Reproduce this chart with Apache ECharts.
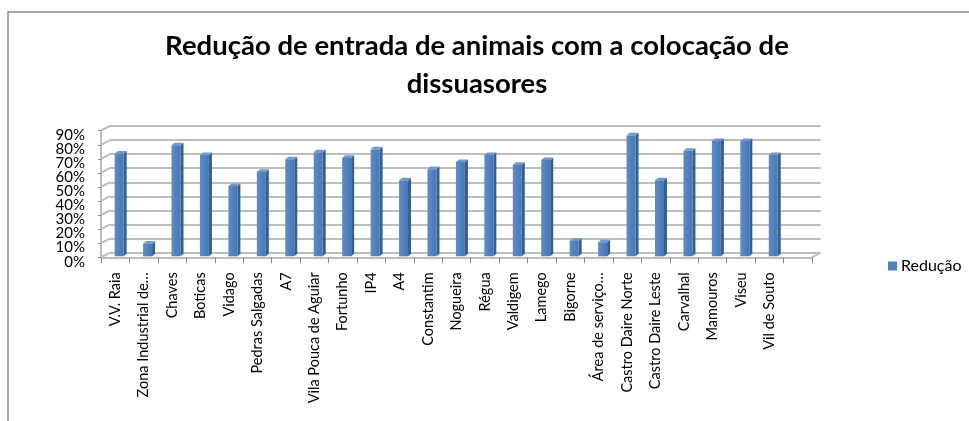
<!DOCTYPE html>
<html><head><meta charset="utf-8">
<script src="https://cdn.jsdelivr.net/npm/echarts@6/dist/echarts.min.js"></script>
<style>html,body{margin:0;padding:0;background:#fff}#c{width:969px;height:421px}</style>
</head><body><div id="c"></div>
<script>
const titleText = "Redução de entrada de animais com a colocação de\ndissuasores";
const seriesName = "Redução";
const categories = ["V.V. Raia","Zona Industrial de…","Chaves","Boticas","Vidago","Pedras Salgadas","A7","Vila Pouca de Aguiar","Fortunho","IP4","A4","Constantim","Nogueira","Régua","Valdigem","Lamego","Bigorne","Área de serviço…","Castro Daire Norte","Castro Daire Leste","Carvalhal","Mamouros","Viseu","Vil de Souto",""];
const values = [0.73,0.09,0.79,0.72,0.50,0.60,0.69,0.74,0.70,0.76,0.54,0.62,0.67,0.72,0.65,0.685,0.11,0.10,0.86,0.54,0.75,0.82,0.82,0.72];
const yTicks = [0,0.1,0.2,0.3,0.4,0.5,0.6,0.7,0.8,0.9];
const yTickLabels = ["0%","10%","20%","30%","40%","50%","60%","70%","80%","90%"];

const FONT = 'Lato';
const DX = 8.7, DY = -4.7;           // depth offset of the back wall
const G = {left:101, top:130.7, width:711, height:126.6};
const LABEL_DY = 4.4, LABEL_GAP = 16;
const gridColor = '#BDBDBD';

const chart = echarts.init(document.getElementById('c'), null, {renderer:'canvas'});

function wallItem(params, api){
  const v = api.value(0);
  const p = api.coord([0, v]);
  const slot = api.size([1,0])[0];
  const xL = p[0] - slot/2;
  const children = [
    {type:'line', shape:{x1:xL, y1:p[1], x2:xL+DX, y2:p[1]+DY}, style:{stroke:gridColor, lineWidth:2}},
    {type:'text', style:{text:yTickLabels[params.dataIndex], x:xL-LABEL_GAP, y:p[1]+LABEL_DY,
      align:'right', verticalAlign:'middle', font:'15px '+FONT, fill:'#000'}}
  ];
  if (v === 0) {
    const q = api.coord([categories.length-1, 0]);
    const xR = q[0] + slot/2;
    children.push({type:'line', shape:{x1:xR, y1:q[1], x2:xR+DX, y2:q[1]+DY}, style:{stroke:gridColor, lineWidth:2}});
  }
  return {type:'group', children};
}

function barItem(params, api){
  const i = api.value(0), v = api.value(1);
  const b = api.coord([i, 0]);
  const t = api.coord([i, v]);
  const w = 9, sx = 3, sy = -2.6;
  const ox = DX*0.45, oy = DY*0.2;
  const x0 = b[0] + ox - w/2, x1 = x0 + w;
  const yb = b[1] + oy, yt = t[1] + oy;
  return {type:'group', children:[
    {type:'polygon', shape:{points:[[x1,yb],[x1,yt],[x1+sx,yt+sy],[x1+sx,yb+sy]]}, style:{fill:'#385E8E'}},
    {type:'polygon', shape:{points:[[x0,yt],[x1,yt],[x1+sx,yt+sy],[x0+sx,yt+sy]]}, style:{fill:'#6F9AD0'}},
    {type:'rect', shape:{x:x0, y:yt, width:w, height:yb-yt}, style:{fill:new echarts.graphic.LinearGradient(0,0,1,0,[{offset:0,color:'#5B8DCB'},{offset:1,color:'#4878B3'}])}}
  ]};
}

chart.setOption({
  animation:false,
  backgroundColor:'#fff',
  graphic:[{type:'rect', shape:{x:8, y:12, width:1000, height:500}, style:{fill:'none', stroke:'#8A8A8A', lineWidth:1.5}, silent:true, z:-10}],
  title:{text:titleText, left:472, top:22, textAlign:'center',
    textStyle:{fontFamily:FONT, fontWeight:'bold', fontSize:27.5, lineHeight:38, color:'#000'}},
  legend:{data:[seriesName], left:888, top:258, padding:0, icon:'rect', itemWidth:9, itemHeight:9, itemGap:5,
    textStyle:{fontFamily:FONT, fontSize:16, color:'#000', padding:[0,0,0,-1]}},
  grid:[
    {left:G.left, top:G.top, width:G.width, height:G.height},
    {left:G.left+DX, top:G.top+DY, width:G.width, height:G.height}
  ],
  xAxis:[
    {type:'category', gridIndex:0, data:categories, boundaryGap:true,
      axisLine:{show:true, lineStyle:{color:gridColor, width:2}},
      axisTick:{show:true, interval:0, length:6, lineStyle:{color:'#8A8A8A'}},
      axisLabel:{interval:0, rotate:90, margin:15, fontFamily:FONT, fontSize:14.5, color:'#000'}},
    {type:'category', gridIndex:1, data:categories, show:false}
  ],
  yAxis:[
    {type:'value', gridIndex:0, min:0, max:0.9, interval:0.1,
      axisLine:{show:true, lineStyle:{color:gridColor, width:2}},
      axisTick:{show:true, length:3, lineStyle:{color:'#8A8A8A'}},
      splitLine:{show:false}, axisLabel:{show:false}},
    {type:'value', gridIndex:1, min:0, max:0.9, interval:0.1,
      axisLine:{show:false}, axisTick:{show:false}, axisLabel:{show:false},
      splitLine:{show:true, lineStyle:{color:gridColor, width:2}}}
  ],
  series:[
    {type:'custom', name:'wall', xAxisIndex:0, yAxisIndex:0, renderItem:wallItem,
      data:yTicks.map(v=>[v]), encode:{x:-1, y:0}, silent:true, z:1},
    {type:'custom', name:seriesName, xAxisIndex:0, yAxisIndex:0, renderItem:barItem,
      itemStyle:{color:'#4F81BD'},
      data:values.map((v,i)=>[i,v]), encode:{x:0, y:1}, z:5}
  ]
});
</script></body></html>
